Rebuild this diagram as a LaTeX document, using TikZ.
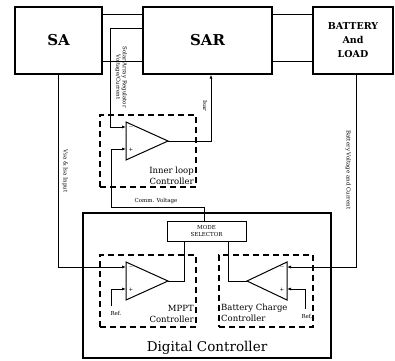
\documentclass[tikz,border=0pt]{standalone}
\usepackage{fontspec}
\setmainfont{DejaVu Serif}
\usetikzlibrary{arrows.meta}

\tikzset{
  blockbox/.style={draw, line width=1.2pt, inner sep=0pt},
  ctrlbox/.style={draw, line width=1.1pt, dash pattern=on 6pt off 4pt},
  wire/.style={line width=1pt},
  sig/.style={wire, -{Latex[length=4pt,width=3pt]}},
  tinylbl/.style={font=\fontsize{5.5}{6.5}\selectfont, inner sep=0pt},
  lbl/.style={font=\fontsize{8.5}{11}\selectfont, inner sep=0pt},
}

\begin{document}
\begin{tikzpicture}[x=1pt,y=-1pt]
\useasboundingbox (0,0) rectangle (395,360);

% top row
\node[blockbox, minimum width=87pt, minimum height=67pt, font=\fontsize{15}{15}\selectfont\bfseries] (sa) at (58.5,40.5) {SA};
\node[blockbox, minimum width=129pt, minimum height=67pt, font=\fontsize{15}{15}\selectfont\bfseries] (sar) at (207.5,40.5) {SAR};
\node[blockbox, minimum width=80pt, minimum height=67pt, align=center, font=\fontsize{9.5}{14}\selectfont\bfseries] (bat) at (353,40.5) {BATTERY\\And\\LOAD};

\draw[wire] (sa.east |- 0,14) -- (sar.west |- 0,14);
\draw[wire] (sa.east |- 0,61) -- (sar.west |- 0,61);
\draw[wire] (sar.east |- 0,14) -- (bat.west |- 0,14);
\draw[wire] (sar.east |- 0,61) -- (bat.west |- 0,61);

% inner loop controller
\node[ctrlbox, minimum width=96pt, minimum height=72pt] (inner) at (148,151) {};
\draw[wire] (126,122) -- (168,141) -- (126,160) -- cycle;
\coordinate (innerin1) at (126,127);
\coordinate (innerin2) at (126,149);
\coordinate (innerout) at (168,141);
\node[tinylbl] (innerm) at (131,127) {$-$};
\node[tinylbl] (innerp) at (131,150) {+};
\node[lbl, align=right, anchor=east] (innerlbl) at (194,176) {Inner loop\\Controller};

\draw[sig] (sar.west |- 0,28) -- (110,28) |- (innerin1);
\node[tinylbl, rotate=-90, align=center] (sarlbl) at (121,77) {Solar Array Regulator\\Voltage/Current};

\draw[sig] (innerout) -- (211,141) -- (sar.south -| 211,0);
\node[tinylbl, rotate=-90] (isarlbl) at (205,106) {Isar};

% digital controller
\node[blockbox, minimum width=248pt, minimum height=145pt] (dig) at (207,285.5) {};
\node[font=\fontsize{13.5}{13.5}\selectfont] (diglbl) at (207,348) {Digital Controller};

\node[blockbox, line width=1pt, minimum width=79pt, minimum height=20pt, align=center, font=\fontsize{5.5}{6.5}\selectfont] (mode) at (206.5,231) {MODE\\SELECTOR};

\draw[sig] (mode.north -| 204,0) |- (111,207) |- (innerin2);
\node[tinylbl] (commlbl) at (156,201) {Comm. Voltage};

% MPPT controller
\node[ctrlbox, minimum width=96pt, minimum height=72pt] (mppt) at (148,291) {};
\draw[wire] (126,262) -- (168,281) -- (126,300) -- cycle;
\coordinate (mpptin1) at (126,267);
\coordinate (mpptin2) at (126,289);
\coordinate (mpptout) at (168,281);
\node[tinylbl] (mpptm) at (131,267) {$-$};
\node[tinylbl] (mpptp) at (131,290) {+};
\node[lbl, align=right, anchor=east] (mpptlbl) at (194,314) {MPPT\\Controller};

\draw[sig] (sa.south -| 58,0) |- (mpptin1);
\node[tinylbl, rotate=-90] (salbl) at (65,171) {Vsa \& Isa Input};
\draw[sig] (111,306) |- (mpptin2);
\node[tinylbl] (ref1) at (116,313) {Ref.};
\draw[wire] (mpptout) -- (184,281) -- (mode.south -| 184,0);

% battery charge controller
\node[ctrlbox, minimum width=94pt, minimum height=72pt] (bcc) at (266,291) {};
\draw[wire] (287,262) -- (247,281) -- (287,300) -- cycle;
\coordinate (bccin1) at (287,267);
\coordinate (bccin2) at (287,289);
\coordinate (bccout) at (247,281);
\node[tinylbl] (bccm) at (282,267) {$-$};
\node[tinylbl] (bccp) at (282,290) {+};
\node[lbl, align=left, anchor=west] (bcclbl) at (221,313) {Battery Charge\\Controller};

\draw[sig] (bat.south -| 356,0) |- (bccin1);
\node[tinylbl, rotate=-90] (batlbl) at (348,170) {Battery Voltage and Current};
\draw[sig] (305,309) |- (bccin2);
\node[tinylbl] (ref2) at (307,316) {Ref.};
\draw[wire] (bccout) -- (228,281) -- (mode.south -| 228,0);
\end{tikzpicture}
\end{document}
